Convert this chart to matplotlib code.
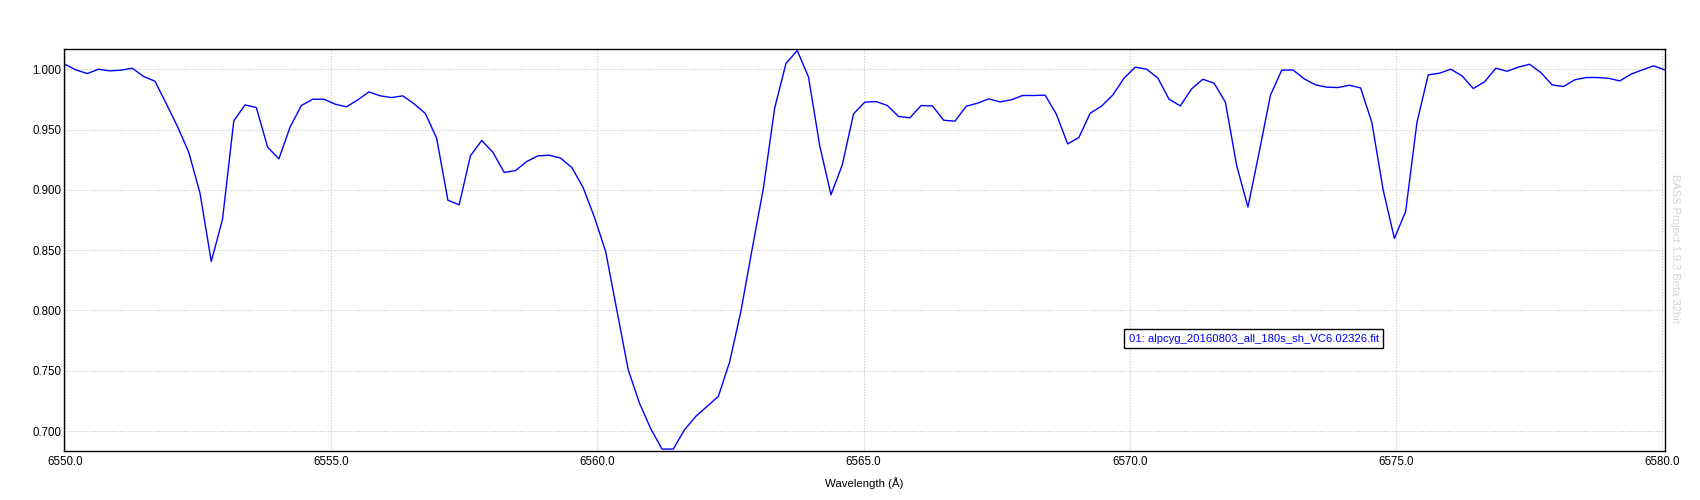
import numpy as np
import matplotlib.pyplot as plt

# spectrum: linear dispersion (start wavelength, step per pixel) and normalised flux
wave_start = 6550.0
wave_step = 0.2116
flux = [
    1.0041, 0.9994, 0.9964, 1.0000, 0.9986, 0.9992, 1.0008, 0.9939, 0.9901, 0.9715,
    0.9525, 0.9312, 0.8972, 0.8406, 0.8757, 0.9572, 0.9704, 0.9682, 0.9354, 0.9257,
    0.9522, 0.9699, 0.9751, 0.9751, 0.9710, 0.9688, 0.9746, 0.9812, 0.9779, 0.9765,
    0.9779, 0.9713, 0.9633, 0.9428, 0.8914, 0.8876, 0.9282, 0.9409, 0.9310, 0.9144,
    0.9160, 0.9235, 0.9282, 0.9287, 0.9263, 0.9185, 0.9019, 0.8774, 0.8489, 0.8000,
    0.7509, 0.7232, 0.7020, 0.6851, 0.6851, 0.7011, 0.7122, 0.7205, 0.7288, 0.7572,
    0.7992, 0.8508, 0.9014, 0.9677, 1.0047, 1.0155, 0.9936, 0.9365, 0.8959, 0.9207,
    0.9630, 0.9727, 0.9732, 0.9699, 0.9608, 0.9597, 0.9699, 0.9696, 0.9577, 0.9569,
    0.9693, 0.9718, 0.9754, 0.9729, 0.9746, 0.9782, 0.9782, 0.9785, 0.9627, 0.9381,
    0.9434, 0.9635, 0.9693, 0.9785, 0.9925, 1.0017, 1.0000, 0.9928, 0.9751, 0.9696,
    0.9837, 0.9917, 0.9884, 0.9727, 0.9202, 0.8857, 0.9312, 0.9785, 0.9992, 0.9994,
    0.9920, 0.9870, 0.9851, 0.9848, 0.9867, 0.9845, 0.9558, 0.9000, 0.8597, 0.8821,
    0.9558, 0.9953, 0.9967, 1.0000, 0.9945, 0.9840, 0.9895, 1.0008, 0.9983, 1.0017,
    1.0041, 0.9972, 0.9870, 0.9856, 0.9912, 0.9931, 0.9931, 0.9925, 0.9903, 0.9959,
    0.9994, 1.0028, 0.9994,
]
wave = wave_start + wave_step * np.arange(len(flux))

x_ticks = [6550, 6555, 6560, 6565, 6570, 6575, 6580]
y_ticks = [0.70, 0.75, 0.80, 0.85, 0.90, 0.95, 1.00]
series_name = "01: alpcyg_20160803_all_180s_sh_VC6.02326.fit"
watermark = "BASS Project 1.9.3 Beta 32bit"

plt.rcParams['font.family'] = ['Liberation Sans', 'DejaVu Sans']

fig = plt.figure(figsize=(17, 5), dpi=100)
ax = fig.add_axes([0.0378, 0.098, 0.9416, 0.8034])

ax.plot(wave, flux, color='#0000ff', lw=1.0)

ax.set_xlim(6549.99, 6580.05)
ax.set_ylim(0.6835, 1.0165)
ax.set_xticks(x_ticks)
ax.set_xticklabels([f"{v:.1f}" for v in x_ticks])
ax.set_yticks(y_ticks)
ax.set_yticklabels([f"{v:.3f}" for v in y_ticks])
ax.tick_params(length=0, labelsize=8.3, colors='black')
ax.tick_params(axis='x', pad=3.5)
ax.tick_params(axis='y', pad=2)
ax.grid(True, color='#c8c8c8', linestyle=(0, (1, 1.5)), lw=0.8)
for s in ax.spines.values():
    s.set_color('black')
    s.set_linewidth(1.0)

ax.set_xlabel("Wavelength (Å)", fontsize=8.2, labelpad=7)

# series label box
ax.text(0.665, 0.2795, series_name, transform=ax.transAxes, fontsize=8.1,
        color='#0000ff', ha='left', va='center',
        bbox=dict(boxstyle='square,pad=0.4', fc='white', ec='black', lw=1.0))

fig.text(0.9855, 0.504, watermark, rotation=-90, fontsize=8, color='#d4d4d4',
         ha='center', va='center')

fig.savefig('out.png', dpi=100)
